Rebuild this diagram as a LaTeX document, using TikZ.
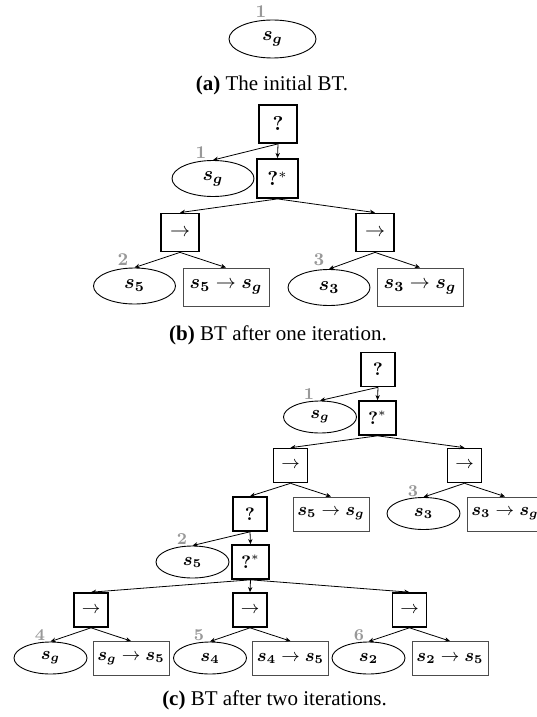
\documentclass[tikz,border=0pt]{standalone}
\usepackage[no-math]{fontspec}
\newfontfamily\capfont{Liberation Serif}
\usepackage{amsmath,bm}
\usetikzlibrary{arrows.meta,shapes.geometric}
\begin{document}
\begin{tikzpicture}[x=0.5pt,y=-0.5pt,
  fB/.style={font=\fontsize{10}{12}\selectfont},
  fC/.style={font=\fontsize{9}{11}\selectfont},
  ctrlB/.style={draw,line width=0.9pt,inner sep=0pt,minimum width=19pt,minimum height=19pt,fB},
  condB/.style={draw,ellipse,line width=0.45pt,inner sep=0pt,minimum width=41pt,minimum height=18pt,fB},
  actB/.style={draw=black!70,line width=0.45pt,inner sep=0pt,minimum width=43pt,minimum height=19pt,fB},
  numB/.style={text=black!40,font=\fontsize{9}{10}\bfseries\selectfont,inner sep=0pt},
  ctrlC/.style={draw,line width=0.8pt,inner sep=0pt,minimum width=17pt,minimum height=17pt,fC},
  condC/.style={draw,ellipse,line width=0.45pt,inner sep=0pt,minimum width=36.5pt,minimum height=16pt,fC},
  actC/.style={draw=black!70,line width=0.45pt,inner sep=0pt,minimum width=38pt,minimum height=17pt,fC},
  numC/.style={text=black!40,font=\fontsize{8.3}{9}\bfseries\selectfont,inner sep=0pt},
  edge/.style={-{Stealth[length=2.6pt,width=2.2pt]},line width=0.4pt},
  captext/.style={anchor=base,inner sep=0pt,font=\capfont\fontsize{10.5}{12}\selectfont}]
\useasboundingbox (0,0) rectangle (536,717);

% ---------- (a)
\node[condB,minimum width=43.5pt,minimum height=19pt] (ae) at (272.5,39) {$\bm{s_g}$};
\node[numB] (al) at (261,12) {1};
\node[captext] (acap) at (272,90.7) {{\bfseries (a)} The initial BT.};

% ---------- (b)
\node[ctrlB] (bq) at (278,124) {$\bm{?}$};
\node[ctrlB,minimum width=20.5pt,minimum height=19.5pt] (bqs) at (277.5,178.5) {$\bm{?}^{*}$};
\node[condB] (be1) at (213,178.5) {$\bm{s_g}$};
\node[numB] (bl1) at (201,153) {1};
\node[ctrlB] (bsl) at (180,232.5) {$\rightarrow$};
\node[ctrlB] (bsr) at (375,232.5) {$\rightarrow$};
\node[condB] (be2) at (134.5,286) {$\bm{s_5}$};
\node[actB] (ba2) at (226,287) {$\bm{s_5}\rightarrow\bm{s_g}$};
\node[numB] (bl2) at (123,260) {2};
\node[condB] (be3) at (329,287.5) {$\bm{s_3}$};
\node[actB] (ba3) at (420,287) {$\bm{s_3}\rightarrow\bm{s_g}$};
\node[numB] (bl3) at (319,260) {3};
\draw[edge] (bq.south) -- (be1.north);
\draw[edge] (bq.south) -- (bqs.north);
\draw[edge] (bqs.south) -- (bsl.north);
\draw[edge] (bqs.south) -- (bsr.north);
\draw[edge] (bsl.south) -- (be2.north);
\draw[edge] (bsl.south) -- (ba2.north);
\draw[edge] (bsr.south) -- (be3.north);
\draw[edge] (bsr.south) -- (ba3.north);
\node[captext] (bcap) at (278,340.7) {{\bfseries (b)} BT after one iteration.};

% ---------- (c)
\node[ctrlC] (cq) at (378,369.5) {$\bm{?}$};
\node[ctrlC,minimum width=18.5pt] (cqs) at (377.5,418) {$\bm{?}^{*}$};
\node[condC] (ce1) at (320,417) {$\bm{s_g}$};
\node[numC] (cl1) at (309,394) {1};
\node[ctrlC] (csl) at (290.5,465.5) {$\rightarrow$};
\node[ctrlC] (csr) at (464.5,465.5) {$\rightarrow$};
\node[ctrlC] (cq2) at (250,514) {$\bm{?}$};
\node[actC] (ca5) at (331,514) {$\bm{s_5}\rightarrow\bm{s_g}$};
\node[condC] (ce3) at (423.5,513.5) {$\bm{s_3}$};
\node[actC] (ca3) at (505,514) {$\bm{s_3}\rightarrow\bm{s_g}$};
\node[numC] (cl3) at (413,491) {3};
\node[ctrlC,minimum width=18.5pt] (cqs2) at (250.5,562) {$\bm{?}^{*}$};
\node[condC] (ce5) at (192.5,562) {$\bm{s_5}$};
\node[numC] (cl2) at (182,539) {2};
\node[ctrlC] (cs4) at (91,610) {$\rightarrow$};
\node[ctrlC] (cs5) at (250,610) {$\rightarrow$};
\node[ctrlC] (cs6) at (409.5,610) {$\rightarrow$};
\node[condC] (cbe4) at (50.5,658) {$\bm{s_g}$};
\node[actC] (cba4) at (131,658.5) {$\bm{s_g}\rightarrow\bm{s_5}$};
\node[condC] (cbe5) at (210,658) {$\bm{s_4}$};
\node[actC] (cba5) at (290.5,658.5) {$\bm{s_4}\rightarrow\bm{s_5}$};
\node[condC] (cbe6) at (368.5,658) {$\bm{s_2}$};
\node[actC] (cba6) at (450,658.5) {$\bm{s_2}\rightarrow\bm{s_5}$};
\node[numC] (cl4) at (40,635) {4};
\node[numC] (cl5) at (199,635) {5};
\node[numC] (cl6) at (359,635) {6};
\draw[edge] (cq.south) -- (ce1.north);
\draw[edge] (cq.south) -- (cqs.north);
\draw[edge] (cqs.south) -- (csl.north);
\draw[edge] (cqs.south) -- (csr.north);
\draw[edge] (csl.south) -- (cq2.north);
\draw[edge] (csl.south) -- (ca5.north);
\draw[edge] (csr.south) -- (ce3.north);
\draw[edge] (csr.south) -- (ca3.north);
\draw[edge] (cq2.south) -- (ce5.north);
\draw[edge] (cq2.south) -- (cqs2.north);
\draw[edge] (cqs2.south) -- (cs4.north);
\draw[edge] (cqs2.south) -- (cs5.north);
\draw[edge] (cqs2.south) -- (cs6.north);
\draw[edge] (cs4.south) -- (cbe4.north);
\draw[edge] (cs4.south) -- (cba4.north);
\draw[edge] (cs5.south) -- (cbe5.north);
\draw[edge] (cs5.south) -- (cba5.north);
\draw[edge] (cs6.south) -- (cbe6.north);
\draw[edge] (cs6.south) -- (cba6.north);
\node[captext] (ccap) at (274.5,705.7) {{\bfseries (c)} BT after two iterations.};
\end{tikzpicture}
\end{document}
